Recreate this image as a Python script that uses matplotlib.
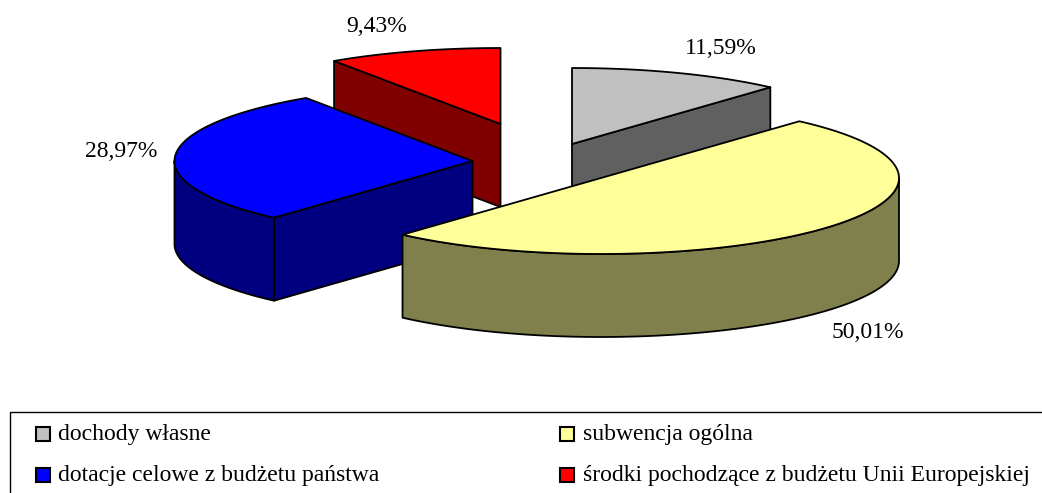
import numpy as np
import matplotlib
matplotlib.use("Agg")
import matplotlib.pyplot as plt
from matplotlib.patches import Polygon, Rectangle

categories = ["dochody własne", "subwencja ogólna",
              "dotacje celowe z budżetu państwa",
              "środki pochodzące z budżetu Unii Europejskiej"]
values = [11.59, 50.01, 28.97, 9.43]
value_labels = ["11,59%", "50,01%", "28,97%", "9,43%"]

top_colors = ["#C0C0C0", "#FFFF99", "#0000FF", "#FF0000"]
side_colors = ["#606060", "#80804D", "#000080", "#800000"]

centers = [(572, 144), (601, 178), (472.5, 161), (500.5, 124)]
RX, RY, DEPTH = 298, 76, 83
label_pos = [(721, 54), (868, 338), (121, 157), (377, 32)]
legend_marker = [(36, 427), (560, 427), (36, 468), (560, 468)]
legend_text = [(58, 440), (583, 440), (58, 481), (583, 481)]

plt.rcParams["font.family"] = ["Liberation Serif", "DejaVu Serif"]
fig = plt.figure(figsize=(10.42, 4.93), dpi=100)
ax = fig.add_axes([0, 0, 1, 1])
ax.set_xlim(0, 1042)
ax.set_ylim(493, 0)
ax.axis("off")

bounds = np.concatenate([[0], np.cumsum(values)]) / np.sum(values) * 2 * np.pi


def rim(c, a0, a1, dz=0.0, n=160):
    t = np.linspace(a0, a1, n)
    return np.column_stack([c[0] + RX * np.sin(t), c[1] - RY * np.cos(t) + dz])


def draw_slice(i, z):
    c = centers[i]
    a0, a1 = bounds[i], bounds[i + 1]
    kw = dict(edgecolor="black", linewidth=1.3, joinstyle="round", zorder=z)
    apex = np.array(c, float)
    low = apex + [0, DEPTH]

    # cut faces that look toward the viewer
    visible = []
    if np.sin(a0) < -1e-6:
        visible.append(a0)
    if np.sin(a1) > 1e-6:
        visible.append(a1)
    for a in visible:
        p = rim(c, a, a, n=1)[0]
        ax.add_patch(Polygon([apex, p, p + [0, DEPTH], low],
                             facecolor=side_colors[i], **kw))
    # outer wall: only the part facing the viewer
    lo, hi = max(a0, np.pi / 2), min(a1, 3 * np.pi / 2)
    if hi > lo:
        up = rim(c, lo, hi)
        down = rim(c, lo, hi, DEPTH)[::-1]
        ax.add_patch(Polygon(np.vstack([up, down]), facecolor=side_colors[i], **kw))
    # top
    ax.add_patch(Polygon(np.vstack([[apex], rim(c, a0, a1)]),
                         facecolor=top_colors[i], **kw))


for z, i in enumerate([3, 0, 2, 1]):
    draw_slice(i, 2 + z * 2)

for lab, (x, y) in zip(value_labels, label_pos):
    ax.text(x, y, lab, ha="center", va="baseline", fontsize=17, color="black", zorder=20)

ax.add_patch(Rectangle((10, 412), 1100, 120, facecolor="white", edgecolor="black",
                       linewidth=1.0, zorder=21, clip_on=True))
for cat, col, m, t in zip(categories, top_colors, legend_marker, legend_text):
    ax.add_patch(Rectangle(m, 14, 14, facecolor=col, edgecolor="black", linewidth=1.5, zorder=22))
    ax.text(t[0], t[1], cat, ha="left", va="baseline", fontsize=17, color="black", zorder=22)

fig.savefig("out.png", dpi=100, facecolor="white")
